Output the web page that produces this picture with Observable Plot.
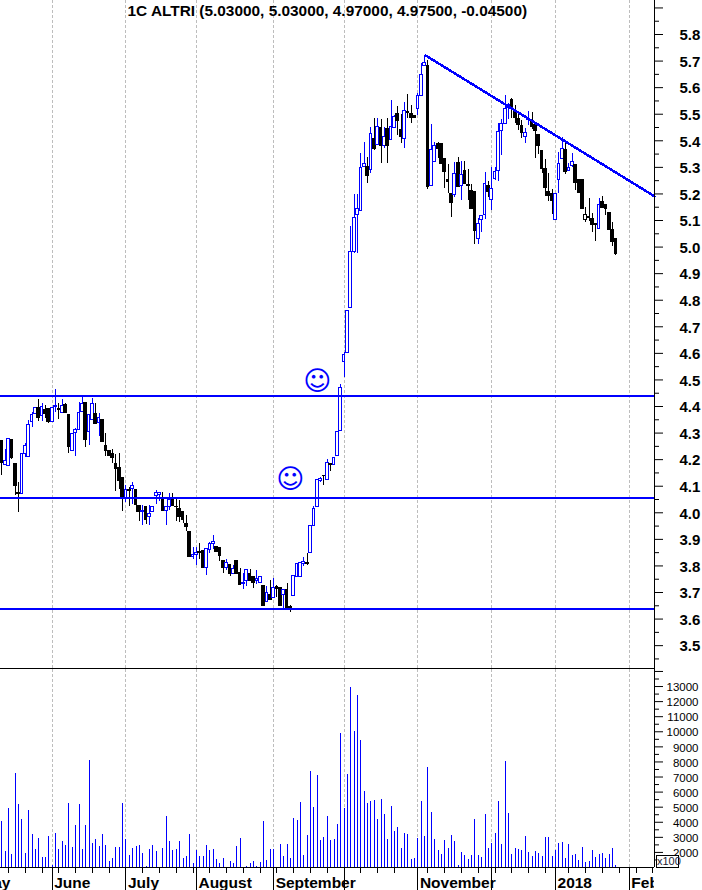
<!DOCTYPE html>
<html><head><meta charset="utf-8">
<style>
html,body{margin:0;padding:0;background:#fff;overflow:hidden}
#wrap{position:relative;width:702px;height:890px}
#wrap svg{display:block;max-width:none}
#box{position:absolute;left:656px;top:855px;width:21px;height:11px;border:1px solid #000;background:#fff;font:11px/11px "Liberation Sans",sans-serif;color:#223;text-align:center}
</style>
<script src="https://cdn.jsdelivr.net/npm/d3@7"></script>
<script src="https://cdn.jsdelivr.net/npm/@observablehq/plot@0.6"></script>
</head><body><div id="wrap"><div id="box">x100</div></div>
<script>
const titleText = "1C ALTRI (5.03000, 5.03000, 4.97000, 4.97500, -0.04500)";
const firstSlot = -1;
const opens = [4.422,
4.272,4.178,4.175,4.274,4.184,4.074,4.071,4.222,4.209,4.341,
4.372,4.393,4.366,4.387,4.391,4.341,4.397,4.391,4.376,4.407,
4.369,4.232,4.299,4.312,4.378,4.413,4.303,4.349,4.372,4.337,
4.351,4.253,4.234,4.222,4.184,4.169,4.131,4.052,4.086,4.090,
4.084,4.025,4.003,4.023,3.983,4.002,4.065,4.067,4.052,4.006,
4.023,4.048,4.023,4.015,4.002,3.958,3.927,3.833,3.843,3.852,
3.856,3.793,3.861,3.883,3.871,3.868,3.820,3.792,3.802,3.770,
3.817,3.773,3.731,3.743,3.770,3.758,3.745,3.735,3.726,3.664,
3.692,3.680,3.719,3.718,3.689,3.711,3.644,3.686,3.758,3.760,
3.808,3.812,3.848,3.949,4.021,4.118,4.140,4.124,4.184,4.181,
4.212,4.306,4.569,4.600,4.769,4.981,5.122,5.135,5.303,5.301,
5.291,5.407,5.386,5.449,5.380,5.445,5.404,5.449,5.499,5.439,
5.407,5.510,5.499,5.494,5.520,5.570,5.680,5.680,5.231,5.320,
5.389,5.389,5.332,5.253,5.201,5.197,5.317,5.229,5.286,5.234,
5.210,5.207,5.031,5.103,5.119,5.228,5.178,5.257,5.286,5.435,
5.464,5.523,5.555,5.512,5.483,5.455,5.414,5.477,5.477,5.458,
5.420,5.360,5.292,5.207,5.201,5.103,5.253,5.332,5.367,5.288,
5.307,5.310,5.251,5.251,5.103,5.113,5.106,5.088,5.069,5.169,
5.160,5.129,5.063,5.030];
const closes = [4.381,
4.189,4.194,4.278,4.206,4.099,4.069,4.222,4.252,4.331,4.369,
4.393,4.356,4.397,4.372,4.341,4.395,4.401,4.386,4.403,4.374,
4.247,4.297,4.312,4.376,4.410,4.274,4.368,4.410,4.334,4.356,
4.265,4.234,4.215,4.205,4.164,4.121,4.058,4.086,4.082,4.100,
4.031,4.002,4.007,3.971,3.996,4.023,4.075,4.075,4.005,4.023,
4.048,4.027,4.020,3.983,3.971,3.946,3.833,3.843,3.849,3.848,
3.792,3.864,3.881,3.889,3.852,3.837,3.792,3.812,3.768,3.789,
3.770,3.729,3.735,3.785,3.745,3.735,3.749,3.758,3.651,3.697,
3.670,3.718,3.715,3.651,3.708,3.642,3.640,3.764,3.808,3.812,
3.813,3.808,3.949,4.015,4.122,4.128,4.137,4.187,4.181,4.207,
4.303,4.469,4.594,4.761,4.983,5.109,5.144,5.298,5.311,5.266,
5.426,5.370,5.451,5.382,5.416,5.379,5.451,5.489,5.474,5.414,
5.514,5.505,5.486,5.484,5.570,5.646,5.692,5.226,5.366,5.379,
5.370,5.313,5.282,5.244,5.165,5.276,5.226,5.270,5.238,5.229,
5.144,5.060,5.088,5.116,5.238,5.207,5.219,5.284,5.433,5.464,
5.520,5.535,5.520,5.485,5.461,5.430,5.430,5.483,5.451,5.436,
5.380,5.295,5.222,5.192,5.173,5.201,5.311,5.370,5.282,5.297,
5.320,5.242,5.203,5.144,5.122,5.109,5.084,5.084,5.160,5.148,
5.142,5.066,5.021,4.975];
const highs = [4.422,
4.272,4.237,4.278,4.274,4.184,4.115,4.222,4.259,4.349,4.378,
4.397,4.428,4.413,4.403,4.391,4.395,4.464,4.413,4.428,4.410,
4.369,4.297,4.316,4.416,4.441,4.413,4.368,4.432,4.413,4.372,
4.351,4.300,4.234,4.240,4.218,4.222,4.131,4.102,4.096,4.115,
4.084,4.025,4.027,4.023,4.027,4.023,4.084,4.075,4.077,4.023,
4.074,4.071,4.052,4.048,4.002,3.990,3.927,3.868,3.871,3.883,
3.856,3.864,3.887,3.914,3.871,3.868,3.820,3.823,3.802,3.802,
3.817,3.789,3.770,3.785,3.785,3.758,3.783,3.758,3.726,3.723,
3.745,3.751,3.726,3.718,3.708,3.735,3.650,3.764,3.808,3.812,
3.833,3.846,3.949,4.024,4.124,4.132,4.140,4.199,4.184,4.207,
4.303,4.483,4.604,4.761,5.077,5.198,5.198,5.351,5.392,5.336,
5.449,5.483,5.483,5.479,5.449,5.483,5.552,5.495,5.529,5.499,
5.543,5.573,5.533,5.494,5.579,5.692,5.721,5.702,5.461,5.395,
5.395,5.389,5.332,5.311,5.201,5.317,5.336,5.323,5.323,5.291,
5.236,5.207,5.106,5.116,5.282,5.248,5.298,5.301,5.464,5.479,
5.570,5.539,5.558,5.533,5.508,5.477,5.448,5.510,5.505,5.470,
5.420,5.360,5.328,5.278,5.217,5.201,5.357,5.411,5.399,5.313,
5.351,5.310,5.251,5.251,5.150,5.184,5.125,5.088,5.184,5.191,
5.160,5.129,5.092,5.030];
const lows = [4.381,
4.140,4.178,4.175,4.199,4.065,4.002,4.071,4.209,4.209,4.322,
4.372,4.344,4.344,4.356,4.337,4.341,4.378,4.351,4.376,4.374,
4.225,4.232,4.213,4.312,4.378,4.247,4.253,4.347,4.331,4.287,
4.265,4.211,4.211,4.184,4.081,4.086,4.006,4.040,4.023,4.030,
4.002,3.968,3.954,3.956,3.952,4.002,4.031,4.043,4.005,3.954,
4.008,4.027,3.967,3.964,3.958,3.929,3.833,3.824,3.802,3.823,
3.792,3.764,3.845,3.861,3.852,3.818,3.773,3.783,3.761,3.770,
3.770,3.729,3.711,3.723,3.745,3.714,3.730,3.733,3.651,3.664,
3.670,3.680,3.682,3.651,3.639,3.642,3.626,3.686,3.758,3.760,
3.798,3.802,3.848,3.949,4.021,4.115,4.103,4.124,4.157,4.181,
4.212,4.306,4.510,4.600,4.769,4.977,4.977,5.135,5.303,5.238,
5.276,5.364,5.382,5.313,5.370,5.316,5.404,5.449,5.420,5.389,
5.370,5.485,5.464,5.483,5.495,5.570,5.680,5.216,5.231,5.320,
5.332,5.313,5.219,5.201,5.113,5.188,5.226,5.175,5.238,5.175,
5.144,5.010,5.010,5.053,5.103,5.185,5.138,5.251,5.248,5.345,
5.464,5.479,5.485,5.464,5.439,5.408,5.389,5.458,5.441,5.332,
5.349,5.276,5.192,5.173,5.123,5.100,5.203,5.332,5.272,5.288,
5.298,5.213,5.200,5.144,5.094,5.098,5.053,5.022,5.069,5.144,
5.119,5.066,5.004,4.970];
const volumes = [ // hundreds, from slot 0
4018,2035,4943,1837,7256,5208,4216,1903,4811,3159,
2168,2895,1639,1639,3027,1110,3225,2168,2696,2432,
5274,2300,3754,5208,2168,3754,8116,2564,2828,2366,
3159,2432,1375,1573,2300,2300,5274,2828,1771,2234,
2366,2432,1903,1044,2168,2432,2035,null,2234,4349,
2696,2100,2168,2696,1573,1705,3159,1242,2100,1705,
1705,2432,2100,2168,1507,1242,1573,null,1375,1242,
2366,2895,null,1044,1242,1375,1044,1308,4018,1441,
2168,2168,null,2498,1705,2498,1573,4282,4084,5340,
1771,3093,7389,5009,7124,2762,2961,4415,2762,2828,
3820,9900,4943,7190,12940,10032,12412,9437,6067,5274,
5406,5472,4216,5538,4547,2828,5076,3357,3622,2234,
3225,3159,1507,1573,2895,5406,3027,7653,4679,2828,
2100,1837,2762,2234,3093,2696,1110,1969,1771,1507,
1771,4216,1771,1639,4547,2234,2564,3225,5406,2498,
8050,4613,1837,2234,2168,2100,3027,1969,1705,2035,
1903,1705,2961,2961,1705,2100,2564,2630,1573,2498,
1771,1837,1441,2300,1308,1375,2100,1639,1837,1903,
1573,1837,2234,1110];
const monthSlots = [-7,15,37,58,81,102,124,146,165,187];
const monthLabels = ["May","June","July","August","September","","November","","2018","Feb"];
const weekSlots = [2,7,12,17,22,27,32,42,47,52,57,62,67,72,77,82,87,92,97,107,112,117,127,132,137,142,147,152,157,162,169,174,179,184,189,194];
const supports = [4.441,4.057,3.638];
const trendSlots = [126.3,194.5];
const trendPrices = [5.721,5.191];
const smileySlots = [94,86];
const smileyPrices = [4.50,4.128];
const priceLabels = [3.5,3.6,3.7,3.8,3.9,4.0,4.1,4.2,4.3,4.4,4.5,4.6,4.7,4.8,4.9,5.0,5.1,5.2,5.3,5.4,5.5,5.6,5.7,5.8];
const priceMinor = [3.45,3.55,3.65,3.75,3.85,3.95,4.05,4.15,4.25,4.35,4.45,4.55,4.65,4.75,4.85,4.95,5.05,5.15,5.25,5.35,5.45,5.55,5.65,5.75,5.85];
const priceExtra = [5.9];
const volLabels = [2000,3000,4000,5000,6000,7000,8000,9000,10000,11000,12000,13000];
const volExtra = [14000];
const volMinor = [1500,2500,3500,4500,5500,6500,7500,8500,9500,10500,11500,12500,13500];
const blackHollow = [174];

const BLUE = "#0000ff";
const FONT = '"Liberation Sans",Arial,sans-serif';
const candles = opens.map((o,i)=>{
  const slot = i + firstSlot;
  const up = closes[i] > o;
  return {slot, o, c:closes[i], h:highs[i], l:lows[i], up,
    color: up && !blackHollow.includes(slot) ? BLUE : "#000"};
});
const xScale = {domain:[-0.396,194.5], range:[0,654], axis:null};
const crisp = {shapeRendering:"crispEdges"};
const gridOpts = {stroke:"#bdbdbd", strokeWidth:1, strokeDasharray:"3 2", ...crisp};
const monthData = monthSlots.map((s,i)=>({s,label:monthLabels[i]}));

const price = Plot.plot({
  width:702, height:669, marginLeft:0, marginRight:48, marginTop:0, marginBottom:1,
  x:xScale, y:{domain:[3.414,5.928], axis:null},
  style:{fontFamily:FONT, background:"white"},
  marks:[
    Plot.ruleX(monthSlots.slice(1),{...gridOpts}),
    Plot.ruleX(candles,{x:"slot",y1:"l",y2:"h",stroke:"color",strokeWidth:1,...crisp}),
    Plot.rect(candles,{x1:d=>d.slot-0.4,x2:d=>d.slot+0.4,
      y1:d=>Math.min(d.o,d.c),y2:d=>Math.max(d.o,d.c),
      fill:d=>d.up?"#fff":"#000",stroke:"color",strokeWidth:1,...crisp}),
    Plot.ruleY(supports,{stroke:BLUE,strokeWidth:2,...crisp}),
    Plot.line(trendSlots.map((s,i)=>({s,p:trendPrices[i]})),{x:"s",y:"p",stroke:BLUE,strokeWidth:2.5,...crisp}),
    Plot.text(smileySlots.map((s,i)=>({s,p:smileyPrices[i]})),{x:"s",y:"p",text:()=>"\u263A",dy:1,
      fill:BLUE,fontSize:27,fontFamily:"DejaVu Sans"}),
    Plot.frame({anchor:"right"}),
    Plot.frame({anchor:"bottom"}),
    Plot.axisY(priceLabels,{anchor:"right",tickSize:0,tickPadding:25,dy:1,tickFormat:".1f",label:null,
      fontSize:15,fontWeight:"bold",fontFamily:FONT,fill:"#000"}),
    Plot.axisY(priceLabels,{anchor:"right",tickSize:8,tickFormat:()=>"",label:null}),
    Plot.axisY(priceExtra,{anchor:"right",tickSize:8,tickFormat:()=>"",label:null}),
    Plot.axisY(priceMinor,{anchor:"right",tickSize:4,tickFormat:()=>"",label:null}),
    Plot.text([titleText],{frameAnchor:"top-left",dx:127,dy:5,textAnchor:"start",lineAnchor:"top",
      fontSize:15.4,fontWeight:"bold",fontFamily:FONT,fill:"#000"})
  ]
});

const BELOW_LONG = -525, BELOW_SHORT = 600;
const volData = volumes.map((v,i)=>({slot:i,v})).filter(d=>d.v!=null);
const volume = Plot.plot({
  width:702, height:221, marginLeft:0, marginRight:48, marginTop:0, marginBottom:0,
  x:xScale, y:{domain:[1000,14130], range:[198,0], axis:null},
  style:{fontFamily:FONT, background:"white"},
  marks:[
    Plot.ruleX(monthSlots.slice(1),{y1:1000,y2:14130,...gridOpts}),
    Plot.ruleX(volData,{x:"slot",y1:1000,y2:"v",stroke:BLUE,strokeWidth:1,...crisp}),
    Plot.ruleY([1000],{stroke:"#000",...crisp}),
    Plot.ruleX([194.5],{y1:1000,y2:14130,stroke:"#000",...crisp}),
    Plot.ruleX(monthSlots,{y1:1000,y2:BELOW_LONG,stroke:"#000",clip:"frame",...crisp}),
    Plot.ruleX(weekSlots,{y1:1000,y2:BELOW_SHORT,stroke:"#000",...crisp}),
    Plot.text(monthData,{x:"s",text:"label",frameAnchor:"bottom",lineAnchor:"bottom",dx:2,dy:-3,textAnchor:"start",
      fontSize:15.5,fontWeight:"bold",fontFamily:FONT,fill:"#000",clip:"frame"}),
    Plot.axisY(volLabels,{anchor:"right",tickSize:0,tickPadding:44,dy:1,textAnchor:"end",tickFormat:"d",label:null,
      fontSize:11.5,fontFamily:FONT,fill:"#000"}),
    Plot.axisY(volLabels,{anchor:"right",tickSize:8,tickFormat:()=>"",label:null}),
    Plot.axisY(volExtra,{anchor:"right",tickSize:8,tickFormat:()=>"",label:null}),
    Plot.axisY(volMinor,{anchor:"right",tickSize:4,tickFormat:()=>"",label:null})
  ]
});
const wrap = document.getElementById("wrap");
wrap.insertBefore(volume, wrap.firstChild);
wrap.insertBefore(price, wrap.firstChild);
</script></body></html>
